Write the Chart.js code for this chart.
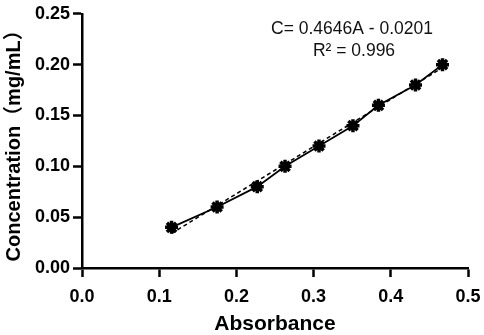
<!DOCTYPE html>
<html>
<head>
<meta charset="utf-8">
<script src="https://cdn.jsdelivr.net/npm/chart.js@4"></script>
<style>
  html, body { margin: 0; padding: 0; background: #fff; }
  #chart { display: block; }
</style>
</head>
<body>
<canvas id="chart" width="484" height="335"></canvas>
<script>
const absorbance = [0.116, 0.175, 0.227, 0.263, 0.307, 0.351, 0.384, 0.432, 0.467];
const concentration = [0.04, 0.06, 0.08, 0.10, 0.12, 0.14, 0.16, 0.18, 0.20];
const fitAbsorbance = [0.116, 0.467];
const fitConcentration = [0.034, 0.197];
const equationLines = ['C= 0.4646A - 0.0201', 'R² = 0.996'];

const FONT = "'Liberation Sans', Arial, 'Noto Sans CJK SC', sans-serif";

const toPoints = (xs, ys) => xs.map((x, i) => ({ x: x, y: ys[i] }));

const equationPlugin = {
    id: 'equation',
    afterDraw(chart) {
        const ctx = chart.ctx;
        ctx.save();
        ctx.fillStyle = '#111';
        ctx.font = '17.5px ' + FONT;
        ctx.textAlign = 'center';
        ctx.textBaseline = 'middle';
        ctx.fillText(equationLines[0], 352, 29);
        ctx.fillText(equationLines[1], 354, 51);
        ctx.restore();
    }
};

const axisStyle = {
    border: { color: '#000', width: 2.5 },
    grid: {
        display: true,
        drawOnChartArea: false,
        drawTicks: true,
        tickLength: 9,
        tickColor: '#000',
        tickWidth: 2.5
    }
};

new Chart(document.getElementById('chart'), {
    type: 'scatter',
    data: {
        datasets: [
            {
                label: 'Fit',
                data: toPoints(fitAbsorbance, fitConcentration),
                showLine: true,
                borderColor: '#000',
                borderWidth: 1.5,
                borderDash: [4, 3],
                pointRadius: 0,
                order: 2
            },
            {
                label: 'Concentration',
                data: toPoints(absorbance, concentration),
                showLine: true,
                borderColor: '#000',
                backgroundColor: '#000',
                borderWidth: 1.8,
                pointStyle: 'star',
                pointRadius: 6.5,
                pointBorderWidth: 3.5,
                order: 1
            }
        ]
    },
    options: {
        responsive: false,
        animation: false,
        devicePixelRatio: 1,
        layout: { padding: { top: 9, right: 16, left: 0, bottom: 0 } },
        plugins: {
            legend: { display: false },
            tooltip: { enabled: false }
        },
        scales: {
            x: {
                type: 'linear',
                min: 0,
                max: 0.5,
                ...axisStyle,
                afterFit: function (scale) {
                    scale.height = 67;
                    scale.paddingLeft = 0;
                    scale.paddingRight = 0;
                },
                ticks: {
                    stepSize: 0.1,
                    padding: 9,
                    color: '#000',
                    font: { family: FONT, size: 18, weight: 'bold' },
                    callback: function (value) { return value.toFixed(1); }
                },
                title: {
                    display: true,
                    text: 'Absorbance',
                    color: '#000',
                    font: { family: FONT, size: 21, weight: 'bold' },
                    padding: { top: 0, bottom: -2 }
                }
            },
            y: {
                type: 'linear',
                min: 0,
                max: 0.25,
                ...axisStyle,
                afterFit: function (scale) { scale.width = 82; },
                ticks: {
                    stepSize: 0.05,
                    padding: 3,
                    color: '#000',
                    font: { family: FONT, size: 18, weight: 'bold' },
                    callback: function (value) { return value.toFixed(2); }
                },
                title: {
                    display: true,
                    text: 'Concentration（mg/mL）',
                    color: '#000',
                    font: { family: FONT, size: 20, weight: 'bold' },
                    padding: { top: 2, bottom: 0 }
                }
            }
        }
    },
    plugins: [equationPlugin]
});
</script>
</body>
</html>
